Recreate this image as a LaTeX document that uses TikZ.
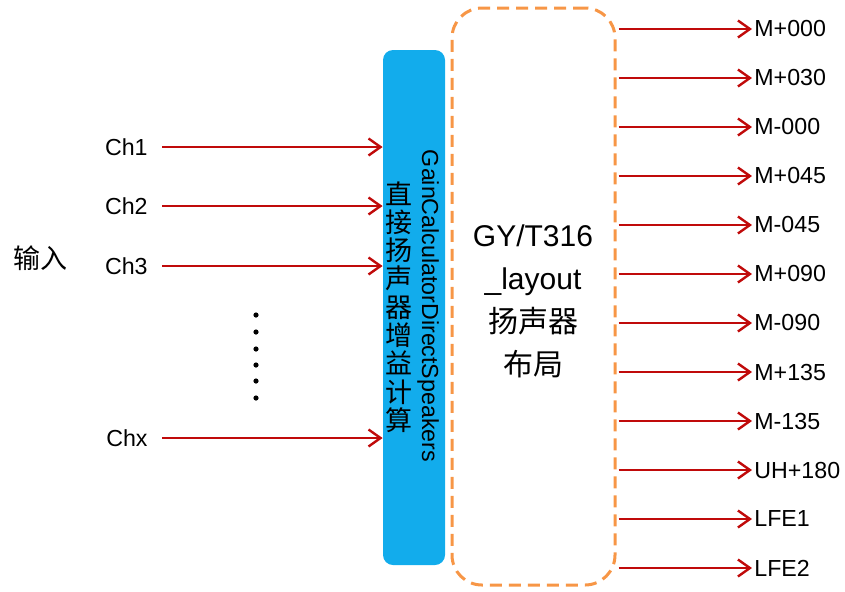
\documentclass[tikz,border=0pt]{standalone}
\usepackage{fontspec}
\setmainfont{Liberation Sans}
\newfontfamily\cjk{Noto Sans CJK SC}
\usetikzlibrary{arrows.meta}
\definecolor{arrowred}{RGB}{192,10,10}
\definecolor{barblue}{RGB}{18,172,236}
\definecolor{dashorange}{RGB}{247,150,70}

\begin{document}
\begin{tikzpicture}[x=0.5pt, y=-0.5pt,
    every node/.style={font=\fontsize{11.6}{14}\selectfont, inner sep=1pt},
    sigarrow/.style={-{Straight Barb[length=6pt,width=8.5pt,line width=1.2pt]}, line width=1.2pt, color=arrowred}]
    \useasboundingbox (0,0) rectangle (845,591);

    % Gain calculation bar and layout box
    \node[fill=barblue, rounded corners=5pt, minimum width=31pt, minimum height=257.5pt] (gain) at (414,307.5) {};
    \node[rotate=-90] (gainname) at (428,306) {GainCalculatorDirectSpeakers};
    \node[align=center, font=\cjk\fontsize{13.5}{14.15}\selectfont] (gaincn) at (399,307) {直\\接\\扬\\声\\器\\增\\益\\计\\算};

    \node[draw=dashorange, line width=1.5pt, dash pattern=on 6pt off 3.5pt, rounded corners=15pt, minimum width=81.5pt, minimum height=288.5pt] (layout) at (533.5,296.5) {};
    \node[align=center, font=\fontsize{15}{21.5}\selectfont] (layouttext) at (533,301) {GY/T316\\\_layout\\{\cjk 扬声器}\\{\cjk 布局}};

    % Inputs
    \node[font=\cjk\fontsize{13.5}{16}\selectfont] (input) at (40,258) {输入};
    \node[anchor=east] (ch1) at (150,147) {Ch1};
    \node[anchor=east] (ch2) at (150,206) {Ch2};
    \node[anchor=east] (ch3) at (150,266) {Ch3};
    \node[anchor=east] (chx) at (150,438) {Chx};
    \foreach \src in {ch1,ch2,ch3,chx}
        \draw[sigarrow] ([xshift=6pt]\src.east) -- (gain.west |- \src.east);
    \foreach \yy in {315,332,349,365,381,398}
        \fill (256,\yy) circle (1.3pt);

    % Outputs
    \foreach \lab [count=\i from 0] in {M+000,M+030,M-000,M+045,M-045,M+090,M-090,M+135,M-135,UH+180,LFE1,LFE2} {
        \node[anchor=west] (out\i) at (752,{29+49*\i}) {\lab};
        \draw[sigarrow, shorten <=1pt] (layout.east |- out\i.west) -- (out\i.west);
    }
\end{tikzpicture}
\end{document}
